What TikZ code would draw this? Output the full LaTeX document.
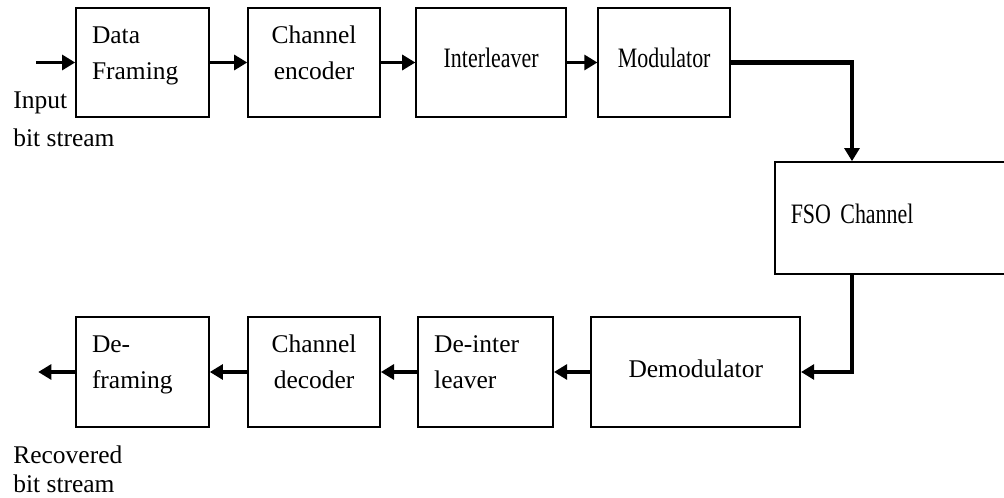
\documentclass[tikz,border=0pt]{standalone}
\usepackage{fontspec}
\setmainfont{Liberation Serif}
\newfontfamily\slimfont[FakeStretch=0.78]{Liberation Serif}
\usepackage{tikz}
\usetikzlibrary{arrows.meta,positioning,calc}
\tikzset{
  blockbox/.style={
    rectangle, draw=black, line width=0.9pt,
    text width=#1, minimum height=2.18cm,
    font=\fontsize{14.5}{20.5}\selectfont, align=center,
    text height=9pt, text depth=3pt, inner sep=0pt
  },
  blockbox/.default=2.64cm,
  leftbox/.style={
    blockbox, align=left, text width=#1, inner xsep=0.32cm
  },
  leftbox/.default=2.02cm,
  twoline/.style={text depth=31pt},
  slim/.style={font=\slimfont\fontsize{16}{20.5}\selectfont},
  sigarrow/.style={
    -{Triangle[length=7.5pt,width=8.5pt]}, line width=1.9pt
  },
  linkarrow/.style={sigarrow, line width=2.3pt},
  sidelabel/.style={
    font=\fontsize{14.5}{#1}\selectfont, align=left,
    anchor=base west, inner sep=0pt
  },
  sidelabel/.default=19pt,
}

\begin{document}
\begin{tikzpicture}
  \clip (0,0) rectangle (20.08,9.96);

  % Transmitter chain
  \node[leftbox, twoline] (frame) at (2.85,8.71) {Data\\Framing};
  \node[blockbox, twoline, right=0.75cm of frame] (encoder) {Channel\\encoder};
  \node[blockbox=3.0cm, slim, right=0.69cm of encoder] (inter) {Interleaver};
  \node[blockbox, slim, right=0.61cm of inter] (mod) {Modulator};

  % Link
  \node[leftbox=4.6cm, slim, minimum height=2.24cm, anchor=west] (fso) at (15.48,5.60) {FSO Channel};
  \coordinate (fsoin) at ($(fso.north west)+(1.56,0)$);
  \coordinate (fsoout) at ($(fso.south west)+(1.56,0)$);

  % Receiver chain
  \node[leftbox, twoline, minimum height=2.2cm] (deframe) at (2.85,2.52) {De-\\framing};
  \node[blockbox, twoline, minimum height=2.2cm, right=0.75cm of deframe] (decoder) {Channel\\decoder};
  \node[leftbox=2.06cm, twoline, minimum height=2.2cm, right=0.73cm of decoder] (deinter) {De-inter\\leaver};
  \node[blockbox=4.18cm, minimum height=2.2cm, right=0.73cm of deinter] (demod) {Demodulator};

  \coordinate (src) at ($(frame.west)+(-0.78,0)$);
  \coordinate (sink) at ($(deframe.west)+(-0.74,0)$);

  % base anchor sits on the last line
  \node[sidelabel=22pt] (srclabel) at (0.26,7.02) {Input\\bit stream};
  \node[sidelabel=17pt] (sinklabel) at (0.26,0.10) {Recovered\\bit stream};

  \draw[sigarrow] (src) -- (frame);
  \draw[sigarrow] (frame) -- (encoder);
  \draw[sigarrow] (encoder) -- (inter);
  \draw[sigarrow] (inter) -- (mod);
  \draw[linkarrow] (mod.east) -| (fsoin);
  \draw[linkarrow] (fsoout) |- (demod.east);
  \draw[sigarrow] (demod) -- (deinter);
  \draw[sigarrow] (deinter) -- (decoder);
  \draw[sigarrow] (decoder) -- (deframe);
  \draw[sigarrow] (deframe) -- (sink);
\end{tikzpicture}
\end{document}
